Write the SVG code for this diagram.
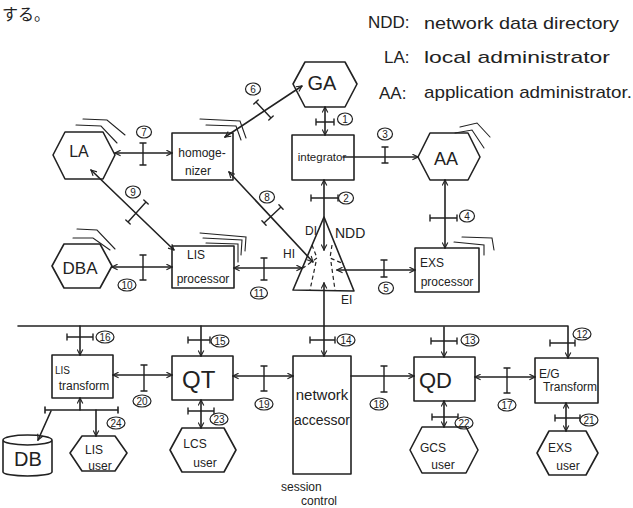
<svg xmlns="http://www.w3.org/2000/svg" width="633" height="508" viewBox="0 0 633 508">
<style>
.s{fill:none;stroke:#222;stroke-width:1.6;stroke-linecap:round;stroke-linejoin:round}
.sh{fill:none;stroke:#222;stroke-width:1.1;stroke-linecap:round}
.tk{fill:none;stroke:#222;stroke-width:1.4;stroke-linecap:round}
.d{fill:none;stroke:#222;stroke-width:1.2;stroke-dasharray:4 3}
.c{fill:#fff;stroke:#222;stroke-width:1.2}
text{font-family:"Liberation Sans","DejaVu Sans",sans-serif;fill:#222}
.n{font-size:10px;text-anchor:middle}
.t{font-size:12px;text-anchor:middle}
.m{text-anchor:middle}
.lg{font-size:17px}
</style>
<defs>
<marker id="ah" viewBox="0 0 10 10" refX="9" refY="5" markerWidth="7" markerHeight="7" orient="auto-start-reverse" markerUnits="userSpaceOnUse">
<path d="M1,1 L9,5 L1,9" fill="none" stroke="#222" stroke-width="1.6"/>
</marker>
</defs>
<rect width="633" height="508" fill="#fff"/>

<text x="2" y="20" style="font-family:'Noto Sans CJK JP',sans-serif;font-size:16px">する。</text>

<g id="legend">
<text class="lg" x="368" y="28">NDD:</text>
<text class="lg" x="424" y="29" textLength="195" lengthAdjust="spacingAndGlyphs">network data directory</text>
<text class="lg" x="384" y="63">LA:</text>
<text class="lg" x="424" y="63" textLength="186" lengthAdjust="spacingAndGlyphs">local administrator</text>
<text class="lg" x="379" y="99">AA:</text>
<text class="lg" x="424" y="98" textLength="208" lengthAdjust="spacingAndGlyphs">application administrator.</text>
</g>

<g id="connectors">
<path class="s" d="M115,153 H172" marker-start="url(#ah)" marker-end="url(#ah)"/>
<path class="s" d="M225,137 L302,86" marker-start="url(#ah)" marker-end="url(#ah)"/>
<path class="s" d="M325,107 V135" marker-start="url(#ah)" marker-end="url(#ah)"/>
<path class="s" d="M343,157 H418" marker-end="url(#ah)"/>
<path class="s" d="M324,180 V250" marker-start="url(#ah)" marker-end="url(#ah)"/>
<path class="s" d="M445,180 V248" marker-start="url(#ah)" marker-end="url(#ah)"/>
<path class="s" d="M229,172 L313,262" marker-start="url(#ah)" marker-end="url(#ah)"/>
<path class="s" d="M91,170 L174,250" marker-start="url(#ah)" marker-end="url(#ah)"/>
<path class="s" d="M112,267 H172" marker-start="url(#ah)" marker-end="url(#ah)"/>
<path class="s" d="M234,268 H302" marker-start="url(#ah)" marker-end="url(#ah)"/>
<path class="s" d="M337,270 H415" marker-start="url(#ah)" marker-end="url(#ah)"/>
<path class="s" d="M324,283 V356" marker-start="url(#ah)" marker-end="url(#ah)"/>
<path class="s" d="M18,326 H568 V358" marker-end="url(#ah)"/>
<path class="s" d="M80,326 V355" marker-end="url(#ah)"/>
<path class="s" d="M201,326 V356" marker-end="url(#ah)"/>
<path class="s" d="M444,327 V357" marker-end="url(#ah)"/>
<path class="s" d="M113,375 H172" marker-start="url(#ah)" marker-end="url(#ah)"/>
<path class="s" d="M233,376 H293" marker-start="url(#ah)" marker-end="url(#ah)"/>
<path class="s" d="M351,376 H414" marker-end="url(#ah)"/>
<path class="s" d="M475,377 H535" marker-start="url(#ah)" marker-end="url(#ah)"/>
<path class="s" d="M80,410 V398" marker-end="url(#ah)"/>
<path class="s" d="M45,410 H118 M45,407 V413 M118,407 V413"/>
<path class="s" d="M51,411 L38,440" marker-end="url(#ah)"/>
<path class="s" d="M96,410 V436" marker-end="url(#ah)"/>
<path class="s" d="M201,400 V428" marker-start="url(#ah)" marker-end="url(#ah)"/>
<path class="s" d="M444,401 V427" marker-start="url(#ah)" marker-end="url(#ah)"/>
<path class="s" d="M566,403 V431" marker-start="url(#ah)" marker-end="url(#ah)"/>

<path class="tk" d="M143,143 V165 M140,143 H146 M140,165 H146"/>
<path class="tk" d="M385,147 V163 M382,147 H388 M382,163 H388"/>
<path class="tk" d="M143,255 V280 M140,255 H146 M140,280 H146"/>
<path class="tk" d="M264,258 V280 M261,258 H267 M261,280 H267"/>
<path class="tk" d="M384,260 V277 M381,260 H387 M381,277 H387"/>
<path class="tk" d="M144,365 V391 M141,365 H147 M141,391 H147"/>
<path class="tk" d="M264,366 V391 M261,366 H267 M261,391 H267"/>
<path class="tk" d="M384,366 V392 M381,366 H387 M381,392 H387"/>
<path class="tk" d="M507,368 V393 M504,368 H510 M504,393 H510"/>

<path class="tk" d="M316,122 H334 M316,119 V125 M334,119 V125"/>
<path class="tk" d="M311,198 H338 M311,195 V201 M338,195 V201"/>
<path class="tk" d="M430,218 H457 M430,215 V221 M457,215 V221"/>
<path class="tk" d="M67,337 H93 M67,334 V340 M93,334 V340"/>
<path class="tk" d="M188,340 H210 M188,337 V343 M210,337 V343"/>
<path class="tk" d="M310,340 H335 M310,337 V343 M335,337 V343"/>
<path class="tk" d="M431,341 H457 M431,338 V344 M457,338 V344"/>
<path class="tk" d="M550,343 H575 M550,340 V346 M575,340 V346"/>
<path class="tk" d="M188,411 H214 M188,408 V414 M214,408 V414"/>
<path class="tk" d="M432,417 H458 M432,414 V420 M458,414 V420"/>
<path class="tk" d="M555,418 H580 M555,415 V421 M580,415 V421"/>

<path class="tk" d="M256,102 L271,118 M253.8,104 L258.2,100 M268.8,120 L273.2,116"/>
<path class="tk" d="M264,223 L281,207 M261.9,220.8 L266.1,225.2 M278.9,204.8 L283.1,209.2"/>
<path class="tk" d="M128,222 L146,202 M125.8,220 L130.2,224 M143.8,200 L148.2,204"/>
</g>

<g id="labels">
<ellipse class="c" cx="345" cy="119" rx="7.5" ry="6"/><text class="n" x="345" y="122.5">1</text>
<ellipse class="c" cx="346" cy="198" rx="7.5" ry="6"/><text class="n" x="346" y="201.5">2</text>
<ellipse class="c" cx="385" cy="134" rx="7.5" ry="6"/><text class="n" x="385" y="137.5">3</text>
<ellipse class="c" cx="467" cy="216" rx="7.5" ry="6"/><text class="n" x="467" y="219.5">4</text>
<ellipse class="c" cx="386" cy="288" rx="7.5" ry="6"/><text class="n" x="386" y="291.5">5</text>
<ellipse class="c" cx="253" cy="89" rx="7.5" ry="6"/><text class="n" x="253" y="92.5">6</text>
<ellipse class="c" cx="144" cy="132" rx="7.5" ry="6"/><text class="n" x="144" y="135.5">7</text>
<ellipse class="c" cx="267" cy="197" rx="7.5" ry="6"/><text class="n" x="267" y="200.5">8</text>
<ellipse class="c" cx="133" cy="192" rx="7.5" ry="6"/><text class="n" x="133" y="195.5">9</text>
<ellipse class="c" cx="127" cy="285" rx="9" ry="6"/><text class="n" x="127" y="288.5">10</text>
<ellipse class="c" cx="259" cy="293" rx="8.5" ry="6"/><text class="n" x="259" y="296.5">11</text>
<ellipse class="c" cx="582" cy="334" rx="9" ry="6"/><text class="n" x="582" y="337.5">12</text>
<ellipse class="c" cx="470" cy="340" rx="9" ry="6"/><text class="n" x="470" y="343.5">13</text>
<ellipse class="c" cx="346" cy="340" rx="9" ry="6"/><text class="n" x="346" y="343.5">14</text>
<ellipse class="c" cx="220" cy="341" rx="9" ry="6"/><text class="n" x="220" y="344.5">15</text>
<ellipse class="c" cx="105" cy="337" rx="9" ry="6"/><text class="n" x="105" y="340.5">16</text>
<ellipse class="c" cx="507" cy="405" rx="9" ry="6"/><text class="n" x="507" y="408.5">17</text>
<ellipse class="c" cx="379" cy="404" rx="9" ry="6"/><text class="n" x="379" y="407.5">18</text>
<ellipse class="c" cx="264" cy="404" rx="9" ry="6"/><text class="n" x="264" y="407.5">19</text>
<ellipse class="c" cx="142" cy="401" rx="9" ry="6"/><text class="n" x="142" y="404.5">20</text>
<ellipse class="c" cx="589" cy="420" rx="9" ry="6"/><text class="n" x="589" y="423.5">21</text>
<ellipse class="c" cx="464" cy="423" rx="9" ry="6"/><text class="n" x="464" y="426.5">22</text>
<ellipse class="c" cx="219" cy="419" rx="9" ry="6"/><text class="n" x="219" y="422.5">23</text>
<ellipse class="c" cx="116" cy="423" rx="9" ry="6"/><text class="n" x="116" y="426.5">24</text>
</g>

<g id="GA">
<polygon class="s" points="305,62 345,62 357,84 345,107 305,107 293,84"/>
<text class="m" x="322" y="90" style="font-size:20px">GA</text>
</g>
<g id="LA">
<polygon class="s" points="65,132 103,132 115,155 103,179 65,179 53,155"/>
<path class="sh" d="M83,119 L107,120 L125,135 M76,125 L101,126 L117,143"/>
<text class="m" x="79" y="157" style="font-size:16px">LA</text>
</g>
<g id="AA">
<polygon class="s" points="430,133 468,133 480,157 468,180 430,180 418,157"/>
<path class="sh" d="M460,127 L477,123 L490,137 M455,133 L472,130 L484,148"/>
<text class="m" x="446" y="165" style="font-size:18px">AA</text>
</g>
<g id="DBA">
<polygon class="s" points="64,244 100,244 112,266 100,288 64,288 52,266"/>
<path class="sh" d="M77,229 L97,230 L115,249 M73,238 L93,238 L110,250"/>
<text class="m" x="80" y="274" style="font-size:17px">DBA</text>
</g>
<g id="homogenizer">
<rect class="s" x="172" y="133" width="61" height="47"/>
<path class="sh" d="M200,119 L240,121 L246,138 M206,125 L236,126 L241,140"/>
<text class="t" x="202" y="157">homoge-</text>
<text class="t" x="198" y="175">nizer</text>
</g>
<g id="integrator">
<rect class="s" x="292" y="135" width="62" height="45"/>
<text class="m" x="322" y="161" style="font-size:11.5px">integrator</text>
</g>
<g id="LIS_processor">
<rect class="s" x="172" y="246" width="62" height="42"/>
<path class="sh" d="M200,233 L246,237 L245,251 M203,238 L242,240 L241,255 M206,243 L238,244 L238,262"/>
<text class="t" x="196" y="259">LIS</text>
<text class="t" x="203" y="283">processor</text>
</g>
<g id="EXS_processor">
<rect class="s" x="415" y="248" width="64" height="44"/>
<path class="sh" d="M454,242 L484,245 L484,255 M462,237 L492,238 L494,250"/>
<text class="t" x="432" y="267">EXS</text>
<text class="t" x="447" y="286">processor</text>
</g>
<g id="NDD">
<polygon class="s" points="324,217 293,290 354,291"/>
<path class="d" d="M312,245 L317,258 L303,268 M316,262 L310,290 M332,245 L330,258 L344,264 M331,262 L335,290"/>
<text x="305" y="235" style="font-size:12px">DI</text>
<text x="335" y="238" style="font-size:14px">NDD</text>
<text x="283" y="258" style="font-size:12px">HI</text>
<text x="341" y="304" style="font-size:12px">EI</text>
</g>
<g id="LIS_transform">
<rect class="s" x="52" y="355" width="61" height="43"/>
<text x="55" y="374" style="font-size:10px">LIS</text>
<text class="t" x="84" y="390">transform</text>
</g>
<g id="QT">
<rect class="s" x="172" y="356" width="61" height="44"/>
<text x="182" y="388" style="font-size:24px">QT</text>
</g>
<g id="network_accessor">
<rect class="s" x="293" y="356" width="58" height="118"/>
<text class="m" x="322" y="400" style="font-size:15px">network</text>
<text class="m" x="322" y="425" style="font-size:14px">accessor</text>
<text x="281" y="491" style="font-size:12px">session</text>
<text x="301" y="505" style="font-size:12px">control</text>
</g>
<g id="QD">
<rect class="s" x="414" y="357" width="61" height="44"/>
<text x="419" y="388" style="font-size:22px">QD</text>
</g>
<g id="EG_transform">
<rect class="s" x="535" y="358" width="63" height="45"/>
<text x="539" y="378" style="font-size:12px">E/G</text>
<text class="t" x="570" y="391">Transform</text>
</g>
<g id="DB">
<path class="s" d="M3,440 A24.5,5 0 0,1 52,440 V472 A24.5,4 0 0,1 3,472 Z M3,440 A24.5,5 0 0,0 52,440"/>
<text class="m" x="28" y="466" style="font-size:20px">DB</text>
</g>
<g id="LIS_user">
<polygon class="s" points="82,436 115,436 127,453 115,471 82,471 70,453"/>
<text class="t" x="94" y="454">LIS</text>
<text class="t" x="100" y="470">user</text>
</g>
<g id="LCS_user">
<polygon class="s" points="182,428 224,428 236,450 224,472 182,472 170,450"/>
<text class="t" x="195" y="448">LCS</text>
<text class="t" x="205" y="467">user</text>
</g>
<g id="GCS_user">
<polygon class="s" points="422,427 466,427 478,450 466,473 422,473 410,450"/>
<text class="t" x="433" y="452">GCS</text>
<text class="t" x="443" y="469">user</text>
</g>
<g id="EXS_user">
<polygon class="s" points="549,431 586,431 598,453 586,475 549,475 537,453"/>
<text class="t" x="560" y="452">EXS</text>
<text class="t" x="568" y="470">user</text>
</g>
</svg>
